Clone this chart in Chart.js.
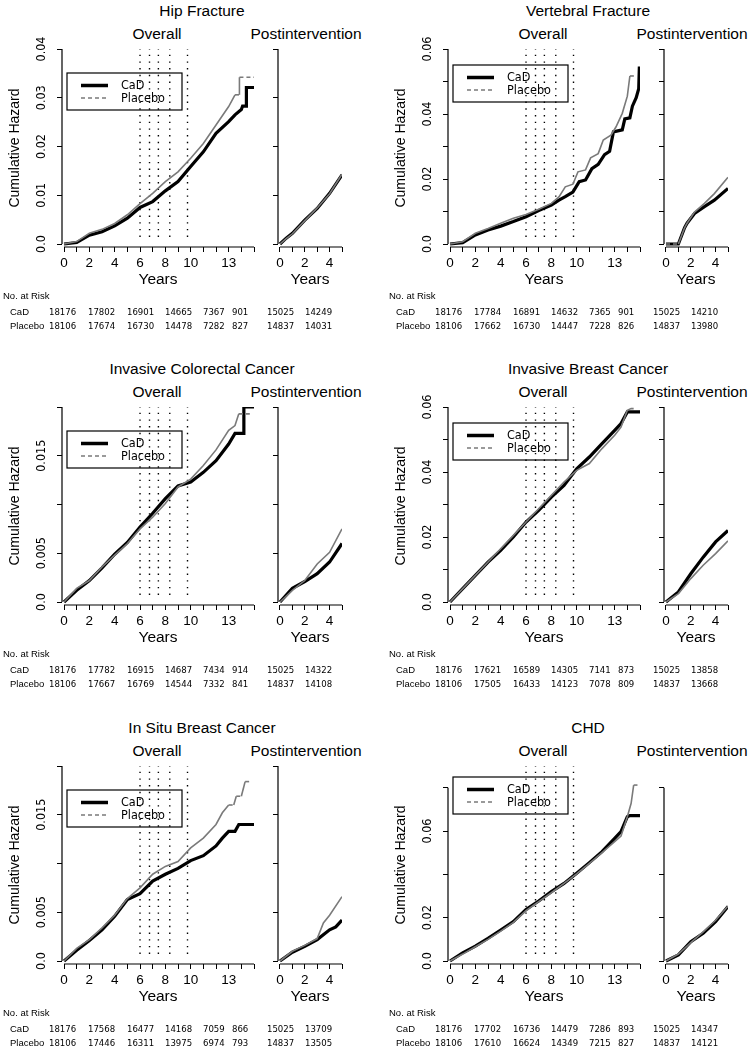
<!DOCTYPE html>
<html>
<head>
<meta charset="utf-8">
<script src="https://cdn.jsdelivr.net/npm/chart.js@4.4.1/dist/chart.umd.min.js"></script>
<style>
  body { margin: 0; background: #fff; }
  #fig { position: relative; width: 750px; height: 1052px; background: #fff; overflow: hidden;
         font-family: "Liberation Sans", Arial, Helvetica, sans-serif; color: #000; }
  #fig canvas { position: absolute; }
  .t { position: absolute; white-space: nowrap; line-height: 1; transform: translate(-50%, -50%); }
  .tab { position: absolute; white-space: nowrap; line-height: 1; font-size: 9.5px; transform: translateY(-50%); }
  .num { font-family: "Liberation Sans Narrow", "Arial Narrow", "DejaVu Sans Condensed", sans-serif; }
</style>
</head>
<body>
<div id="fig"></div>
<script>
const FONT = '"Liberation Sans", Arial, Helvetica, sans-serif';
const NARROW = '"Liberation Sans Narrow", "Arial Narrow", "DejaVu Sans Condensed", sans-serif';

const panelTitles = ['Hip Fracture', 'Vertebral Fracture', 'Invasive Colorectal Cancer',
                     'Invasive Breast Cancer', 'In Situ Breast Cancer', 'CHD'];
const seriesNames = ['CaD', 'Placebo'];

// years of the dotted reference lines in the "Overall" plots
const dottedYears = [6.0, 6.75, 7.45, 8.35, 9.75];

const overallXTicks = [0, 1, 2, 3, 4, 5, 6, 7, 8, 9, 10, 11, 12, 13, 14, 15];
const overallXLabels = ['0', '', '2', '', '4', '', '6', '', '8', '', '10', '', '', '13', '', ''];
const postXTicks = [0, 1, 2, 3, 4, 5];
const postXLabels = ['0', '', '2', '', '4', ''];

// y axes
const hipYTicks = [0, 0.01, 0.02, 0.03, 0.04];
const hipYLabels = ['0.0', '0.01', '0.02', '0.03', '0.04'];
const vertYTicks = [0, 0.01, 0.02, 0.03, 0.04, 0.05, 0.06];
const vertYLabels = ['0.0', '', '0.02', '', '0.04', '', '0.06'];
const colonYTicks = [0, 0.005, 0.01, 0.015, 0.02];
const colonYLabels = ['0.0', '0.005', '', '0.015', ''];
const breastYTicks = [0, 0.01, 0.02, 0.03, 0.04, 0.05, 0.06];
const breastYLabels = ['0.0', '', '0.02', '', '0.04', '', '0.06'];
const situYTicks = [0, 0.005, 0.01, 0.015, 0.02];
const situYLabels = ['0.0', '0.005', '', '0.015', ''];
const chdYTicks = [0, 0.02, 0.04, 0.06, 0.08];
const chdYLabels = ['0.0', '0.02', '', '0.06', ''];

// cumulative hazard curves, [year, hazard]
const hipCaD = [[0,0],[1,0.0003],[2,0.0018],[3,0.0025],[4,0.0037],[5,0.0053],[6,0.0075],[7,0.0087],[8,0.0109],[9,0.0128],[10,0.0159],[11,0.0189],[12,0.0227],[13,0.0251],[13.5,0.0265],[14,0.0276],[14.1,0.0283],[14.4,0.0283],[14.4,0.0321],[15,0.0321]];
const hipPlacebo = [[0,0],[1,0.0005],[2,0.0022],[3,0.003],[4,0.0042],[5,0.006],[6,0.0083],[7,0.0104],[8,0.0128],[9,0.0148],[10,0.0176],[11,0.0206],[12,0.0244],[13,0.0282],[13.5,0.0306],[13.85,0.0306],[13.85,0.0342],[15,0.0342]];
const hipPostCaD = [[0,0],[0.5,0.0012],[1,0.0022],[2,0.0049],[3,0.0073],[4,0.0104],[5,0.0142]];
const hipPostPlacebo = [[0,0],[0.5,0.0011],[1,0.0021],[2,0.0048],[3,0.0074],[4,0.0103],[5,0.0143]];

const vertCaD = [[0,0],[1,0.0004],[2,0.0028],[3,0.0043],[4,0.0055],[5,0.0069],[6,0.0084],[7,0.0103],[8,0.012],[8.6,0.0135],[9.1,0.0146],[9.7,0.016],[10.2,0.0192],[10.7,0.0197],[11.2,0.0232],[11.7,0.0245],[12.2,0.0275],[12.6,0.0285],[12.9,0.0345],[13.6,0.0351],[13.8,0.0385],[14.2,0.0388],[14.4,0.0424],[14.7,0.045],[14.9,0.0478],[14.95,0.0546]];
const vertPlacebo = [[0,0],[1,0.0007],[2,0.0033],[3,0.0048],[4,0.0064],[5,0.0079],[6,0.0091],[7,0.0107],[8,0.0125],[8.6,0.0145],[9.1,0.0176],[9.7,0.0184],[10.1,0.0222],[10.7,0.0228],[11.1,0.0265],[11.7,0.0278],[12.1,0.032],[12.7,0.0335],[13.1,0.036],[13.6,0.0402],[14.0,0.0455],[14.2,0.0517],[14.55,0.0517]];
const vertPostCaD = [[0,0],[1,0],[1.5,0.005],[1.7,0.0064],[2.3,0.0094],[3.1,0.0115],[3.9,0.0135],[5,0.0171]];
const vertPostPlacebo = [[0,0],[1,0],[1.5,0.005],[1.7,0.0064],[2.3,0.0098],[3.1,0.0125],[3.9,0.0155],[5,0.0205]];

const colonCaD = [[0,0],[1,0.0012],[2,0.0022],[3,0.0035],[4,0.0049],[5,0.0061],[6,0.0077],[7,0.0091],[8,0.0106],[9,0.0119],[10,0.0123],[11,0.0133],[12,0.0145],[13,0.0162],[13.5,0.0173],[14.2,0.0173],[14.2,0.02],[15,0.02]];
const colonPlacebo = [[0,0],[1,0.0014],[2,0.0022],[3,0.0036],[4,0.0048],[5,0.006],[6,0.0075],[7,0.0087],[8,0.0101],[9,0.0118],[10,0.0126],[11,0.014],[12,0.0156],[13,0.0176],[13.5,0.0181],[13.8,0.0193],[14.8,0.0193]];
const colonPostCaD = [[0,0],[1,0.0014],[2,0.0021],[3,0.0029],[4,0.0041],[5,0.006]];
const colonPostPlacebo = [[0,0],[1,0.0012],[2,0.0022],[3,0.0039],[4,0.0051],[5,0.0075]];

const breastCaD = [[0,0],[1,0.0041],[2,0.0082],[3,0.0123],[4,0.0159],[5,0.02],[6,0.0246],[7,0.0282],[8,0.0323],[9,0.0359],[10,0.041],[11,0.0446],[12,0.0487],[13,0.0528],[13.5,0.0549],[14,0.0585],[15,0.0585]];
const breastPlacebo = [[0,0],[1,0.0041],[2,0.0082],[3,0.0123],[4,0.0164],[5,0.0205],[6,0.0246],[7,0.0287],[8,0.0328],[9,0.0369],[10,0.0405],[11,0.0426],[12,0.0472],[13,0.0513],[13.5,0.0538],[14,0.059],[14.3,0.0595],[14.5,0.0595]];
const breastPostCaD = [[0,0],[1,0.0031],[2,0.0087],[3,0.0138],[4,0.0185],[5,0.022]];
const breastPostPlacebo = [[0,0],[1,0.0026],[2,0.0072],[3,0.0113],[4,0.0149],[5,0.0188]];

const situCaD = [[0,0],[1,0.0011],[2,0.0021],[3,0.0032],[4,0.0046],[5,0.0063],[6,0.0069],[7,0.0082],[8,0.0089],[9,0.0095],[10,0.0103],[11,0.0108],[12,0.0118],[12.5,0.0126],[13,0.0133],[13.5,0.0133],[13.8,0.014],[15,0.014]];
const situPlacebo = [[0,0],[1,0.0013],[2,0.0022],[3,0.0034],[4,0.0047],[5,0.0064],[6,0.0075],[7,0.0089],[8,0.0097],[9,0.0102],[10,0.0116],[11,0.0126],[12,0.014],[12.5,0.0152],[13,0.016],[13.4,0.016],[13.6,0.0169],[14.0,0.0169],[14.3,0.0184],[14.7,0.0184]];
const situPostCaD = [[0,0],[1,0.0009],[2,0.0015],[3,0.0022],[4,0.0032],[4.5,0.0035],[5,0.0042]];
const situPostPlacebo = [[0,0],[1,0.001],[2,0.0016],[3,0.0023],[3.5,0.0039],[4,0.0047],[5,0.0066]];

const chdCaD = [[0,0],[1,0.0038],[2,0.0069],[3,0.0105],[4,0.0143],[5,0.0182],[6,0.0238],[7,0.0277],[8,0.032],[9,0.0358],[10,0.0405],[11,0.0454],[12,0.0505],[13,0.0566],[13.5,0.0597],[14,0.0666],[14.2,0.0671],[15,0.0671]];
const chdPlacebo = [[0,0],[1,0.0032],[2,0.0066],[3,0.01],[4,0.0138],[5,0.0178],[6,0.0232],[7,0.0274],[8,0.0315],[9,0.0358],[10,0.0402],[11,0.0451],[12,0.05],[13,0.0551],[13.5,0.0577],[14,0.0666],[14.3,0.0728],[14.5,0.0812],[14.8,0.0812]];
const chdPostCaD = [[0,0],[1,0.0028],[2,0.0089],[3,0.0128],[4,0.0182],[5,0.0251]];
const chdPostPlacebo = [[0,0],[1,0.0032],[2,0.0085],[3,0.0134],[4,0.0188],[5,0.0254]];

// numbers at risk: 6 overall columns then 2 postintervention columns
const hipRiskCaD = [18176, 17802, 16901, 14665, 7367, 901, 15025, 14249];
const hipRiskPlacebo = [18106, 17674, 16730, 14478, 7282, 827, 14837, 14031];
const vertRiskCaD = [18176, 17784, 16891, 14632, 7365, 901, 15025, 14210];
const vertRiskPlacebo = [18106, 17662, 16730, 14447, 7228, 826, 14837, 13980];
const colonRiskCaD = [18176, 17782, 16915, 14687, 7434, 914, 15025, 14322];
const colonRiskPlacebo = [18106, 17667, 16769, 14544, 7332, 841, 14837, 14108];
const breastRiskCaD = [18176, 17621, 16589, 14305, 7141, 873, 15025, 13858];
const breastRiskPlacebo = [18106, 17505, 16433, 14123, 7078, 809, 14837, 13668];
const situRiskCaD = [18176, 17568, 16477, 14168, 7059, 866, 15025, 13709];
const situRiskPlacebo = [18106, 17446, 16311, 13975, 6974, 793, 14837, 13505];
const chdRiskCaD = [18176, 17702, 16736, 14479, 7286, 893, 15025, 14347];
const chdRiskPlacebo = [18106, 17610, 16624, 14349, 7215, 827, 14837, 14121];

const panels = [
  { yMax: 0.04, yTicks: hipYTicks, yLabels: hipYLabels, cad: hipCaD, pla: hipPlacebo, postCad: hipPostCaD, postPla: hipPostPlacebo, riskCad: hipRiskCaD, riskPla: hipRiskPlacebo, legendTop: 53 },
  { yMax: 0.06, yTicks: vertYTicks, yLabels: vertYLabels, cad: vertCaD, pla: vertPlacebo, postCad: vertPostCaD, postPla: vertPostPlacebo, riskCad: vertRiskCaD, riskPla: vertRiskPlacebo, legendTop: 45 },
  { yMax: 0.02, yTicks: colonYTicks, yLabels: colonYLabels, cad: colonCaD, pla: colonPlacebo, postCad: colonPostCaD, postPla: colonPostPlacebo, riskCad: colonRiskCaD, riskPla: colonRiskPlacebo, legendTop: 53 },
  { yMax: 0.06, yTicks: breastYTicks, yLabels: breastYLabels, cad: breastCaD, pla: breastPlacebo, postCad: breastPostCaD, postPla: breastPostPlacebo, riskCad: breastRiskCaD, riskPla: breastRiskPlacebo, legendTop: 45 },
  { yMax: 0.02, yTicks: situYTicks, yLabels: situYLabels, cad: situCaD, pla: situPlacebo, postCad: situPostCaD, postPla: situPostPlacebo, riskCad: situRiskCaD, riskPla: situRiskPlacebo, legendTop: 53 },
  { yMax: 0.09, yTicks: chdYTicks, yLabels: chdYLabels, cad: chdCaD, pla: chdPlacebo, postCad: chdPostCaD, postPla: chdPostPlacebo, riskCad: chdRiskCaD, riskPla: chdRiskPlacebo, legendTop: 40 },
];

const rowTops = [0, 358, 717];
const colLefts = [0, 386];
const riskCols = [49, 88, 127, 165, 203, 232, 267, 305];

// R-like axes: lines only between first and last tick, rotated y labels, boxed legend
const rAxes = {
  id: 'rAxes',
  afterDraw(chart, args, opts) {
    const { ctx, chartArea: a, scales: { x, y } } = chart;
    const yt = opts.yTicks, xt = opts.xTicks;
    ctx.save();
    ctx.strokeStyle = '#000';
    ctx.lineWidth = 1.2;
    ctx.beginPath();
    ctx.moveTo(a.left, y.getPixelForValue(yt[0]));
    ctx.lineTo(a.left, y.getPixelForValue(yt[yt.length - 1]));
    ctx.moveTo(x.getPixelForValue(xt[0]), a.bottom);
    ctx.lineTo(x.getPixelForValue(xt[xt.length - 1]), a.bottom);
    ctx.stroke();

    if (opts.showLabels) {
      ctx.fillStyle = '#000';
      ctx.font = '12.5px ' + NARROW;
      ctx.textAlign = 'center';
      ctx.textBaseline = 'middle';
      yt.forEach((v, i) => {
        const lab = opts.yLabels[i];
        if (!lab) return;
        ctx.save();
        ctx.translate(a.left - 20, y.getPixelForValue(v));
        ctx.rotate(-Math.PI / 2);
        ctx.fillText(lab, 0, 0);
        ctx.restore();
      });
    }

    if (opts.legendTop != null) {
      const lx = a.left + 5, ly = opts.legendTop;
      ctx.lineWidth = 1.2;
      ctx.strokeRect(lx, ly, 115, 37);
      ctx.lineWidth = 3.5;
      ctx.beginPath();
      ctx.moveTo(lx + 14, ly + 12.5);
      ctx.lineTo(lx + 41, ly + 12.5);
      ctx.stroke();
      ctx.strokeStyle = '#7a7a7a';
      ctx.lineWidth = 1.3;
      ctx.setLineDash([4, 3]);
      ctx.beginPath();
      ctx.moveTo(lx + 14, ly + 25);
      ctx.lineTo(lx + 41, ly + 25);
      ctx.stroke();
      ctx.setLineDash([]);
      ctx.fillStyle = '#000';
      ctx.font = '12.5px ' + NARROW;
      ctx.textAlign = 'left';
      ctx.textBaseline = 'middle';
      ctx.fillText(seriesNames[0], lx + 54, ly + 12.5);
      ctx.fillText(seriesNames[1], lx + 54, ly + 25.5);
    }
    ctx.restore();
  }
};

const fig = document.getElementById('fig');

function addText(txt, x, y, cls, style) {
  const d = document.createElement('div');
  d.className = cls;
  d.textContent = txt;
  d.style.cssText = `left:${x}px;top:${y}px;` + (style || '');
  fig.appendChild(d);
}

function addCanvas(x, y, w, h) {
  const c = document.createElement('canvas');
  c.width = w; c.height = h;
  c.style.left = x + 'px'; c.style.top = y + 'px';
  c.style.width = w + 'px'; c.style.height = h + 'px';
  fig.appendChild(c);
  return c;
}

const toXY = arr => arr.map(([x, y]) => ({ x, y }));
const flatDash = ctx => (ctx.p0.parsed.y === ctx.p1.parsed.y && ctx.p1.parsed.x - ctx.p0.parsed.x > 0.2) ? [4, 3] : undefined;

function makeChart(canvas, cfg) {
  const datasets = [
    { label: seriesNames[1], data: toXY(cfg.pla), showLine: true, borderColor: '#7a7a7a', borderWidth: 1.6,
      pointRadius: 0, order: 0, segment: { borderDash: flatDash } },
    { label: seriesNames[0], data: toXY(cfg.cad), showLine: true, borderColor: '#000', borderWidth: 3.2,
      pointRadius: 0, order: 1 },
  ];
  if (cfg.dotted) {
    cfg.dotted.forEach(yr => datasets.push({
      data: [{ x: yr, y: cfg.yMax * 0.036 }, { x: yr, y: cfg.yMax }], showLine: true,
      borderColor: '#000', borderWidth: 1.4, borderDash: [1.4, 5.3], borderCapStyle: 'butt',
      pointRadius: 0, order: 2,
    }));
  }
  return new Chart(canvas, {
    type: 'scatter',
    data: { datasets },
    options: {
      responsive: false,
      animation: false,
      events: [],
      layout: { padding: { top: 29, right: 8, left: 0, bottom: 0 } },
      plugins: {
        legend: { display: false },
        tooltip: { enabled: false },
        rAxes: { yTicks: cfg.yTicks, yLabels: cfg.yLabels, xTicks: cfg.xTicks,
                 showLabels: cfg.overall, legendTop: cfg.overall ? cfg.legendTop : null },
      },
      scales: {
        x: {
          type: 'linear', min: -0.16, max: cfg.xTicks[cfg.xTicks.length - 1],
          afterBuildTicks: s => { s.ticks = cfg.xTicks.map(v => ({ value: v })); },
          afterFit: s => { s.height = 45; },
          ticks: { autoSkip: false, maxRotation: 0, minRotation: 0, padding: 3, color: '#000',
                   font: { family: FONT, size: 13.5 },
                   callback: v => cfg.xLabels[cfg.xTicks.indexOf(v)] },
          grid: { drawOnChartArea: false, drawTicks: true, tickLength: 5, color: '#000', lineWidth: 1 },
          border: { display: false },
          title: { display: true, text: 'Years', color: '#000', font: { family: FONT, size: 15.5 },
                   padding: { top: 0, bottom: 2.7 } },
        },
        y: {
          type: 'linear', min: -cfg.yMax * 3 / 195, max: cfg.yMax,
          afterBuildTicks: s => { s.ticks = cfg.yTicks.map(v => ({ value: v })); },
          afterFit: s => { s.width = cfg.overall ? 62 : 8; },
          ticks: { display: false },
          grid: { drawOnChartArea: false, drawTicks: true, tickLength: 5, color: '#000', lineWidth: 1 },
          border: { display: false },
          title: { display: cfg.overall, text: 'Cumulative Hazard', color: '#000',
                   font: { family: FONT, size: 14 }, padding: { top: 6.6, bottom: 0 } },
        },
      },
    },
    plugins: [rAxes],
  });
}

panels.forEach((p, i) => {
  const ox = colLefts[i % 2];
  const oy = rowTops[Math.floor(i / 2)];

  addText(panelTitles[i], ox + 202, oy + 11, 't', 'font-size:15.5px');
  addText('Overall', ox + 157, oy + 34, 't', 'font-size:15.5px');
  addText('Postintervention', ox + 306, oy + 34, 't', 'font-size:15.5px');

  makeChart(addCanvas(ox, oy + 20, 262, 272), {
    overall: true, yMax: p.yMax, yTicks: p.yTicks, yLabels: p.yLabels,
    xTicks: overallXTicks, xLabels: overallXLabels, cad: p.cad, pla: p.pla,
    dotted: dottedYears, legendTop: p.legendTop,
  });
  makeChart(addCanvas(ox + 270, oy + 20, 80, 272), {
    overall: false, yMax: p.yMax, yTicks: p.yTicks, yLabels: p.yLabels,
    xTicks: postXTicks, xLabels: postXLabels, cad: p.postCad, pla: p.postPla,
  });

  addText('No. at Risk', ox + 3, oy + 296, 'tab');
  addText(seriesNames[0], ox + 10, oy + 312, 'tab');
  addText(seriesNames[1], ox + 10, oy + 326, 'tab');
  p.riskCad.forEach((n, j) => addText(String(n), ox + riskCols[j], oy + 312, 'tab num'));
  p.riskPla.forEach((n, j) => addText(String(n), ox + riskCols[j], oy + 326, 'tab num'));
});
</script>
</body>
</html>
